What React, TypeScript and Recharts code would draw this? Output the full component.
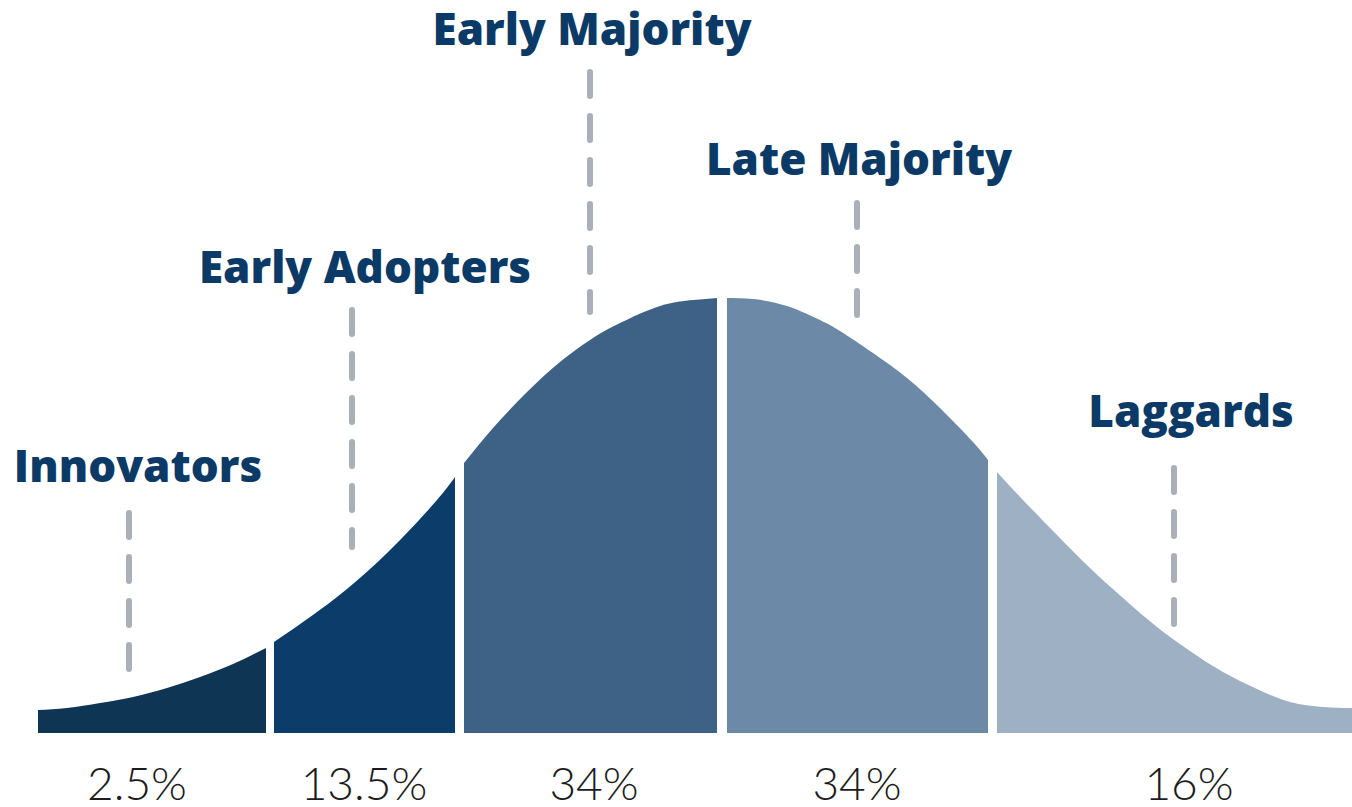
import { ComposedChart, Area, XAxis, YAxis, ReferenceLine, ReferenceDot } from 'recharts';

// adopter groups, left to right
const segmentNames = ['Innovators', 'Early Adopters', 'Early Majority', 'Late Majority', 'Laggards'];
const adoptionShares = ['2.5%', '13.5%', '34%', '34%', '16%'];
const segmentColors = ['#0f3555', '#0b3c6a', '#3e6286', '#6c8aa7', '#9db0c4'];

// curve height, x = distance from the left end of the curve
const innovatorsCurve = [
  { x: 0, h: 23 }, { x: 29, h: 25 }, { x: 62, h: 30 }, { x: 95, h: 36 },
  { x: 129, h: 45 }, { x: 162, h: 56 }, { x: 195, h: 69 }, { x: 228, h: 85 },
];
const earlyAdoptersCurve = [
  { x: 236, h: 91 }, { x: 265, h: 111 }, { x: 299, h: 136 }, { x: 332, h: 164 },
  { x: 365, h: 196 }, { x: 399, h: 233 }, { x: 417, h: 256 },
];
const earlyMajorityCurve = [
  { x: 426, h: 270 }, { x: 455, h: 305 }, { x: 489, h: 341 }, { x: 522, h: 371 },
  { x: 555, h: 395 }, { x: 582, h: 410 }, { x: 622, h: 427 }, { x: 655, h: 433 }, { x: 679, h: 435 },
];
const lateMajorityCurve = [
  { x: 689, h: 435 }, { x: 715, h: 434 }, { x: 749, h: 427 }, { x: 782, h: 413 },
  { x: 802, h: 402 }, { x: 835, h: 380 }, { x: 869, h: 355 }, { x: 902, h: 325 },
  { x: 935, h: 291 }, { x: 950, h: 273 },
];
const laggardsCurve = [
  { x: 959, h: 261 }, { x: 985, h: 233 }, { x: 1019, h: 198 }, { x: 1052, h: 165 },
  { x: 1085, h: 135 }, { x: 1119, h: 106 }, { x: 1152, h: 82 }, { x: 1185, h: 61 },
  { x: 1219, h: 44 }, { x: 1252, h: 31 }, { x: 1285, h: 26 }, { x: 1314, h: 25 },
];
const curves = [innovatorsCurve, earlyAdoptersCurve, earlyMajorityCurve, lateMajorityCurve, laggardsCurve];

// where titles, dashed markers and share ticks sit (data units)
const titleX = [100, 327, 554, 821, 1153];
const titleY = [251, 450, 688, 558, 306];
const markerX = [91, 314, 552, 819, 1136];
const markerTop = [220, 423, 661, 530, 265];
const markerBottom = [61, 186, 421, 413, 109];
const shareX = [99, 326, 556, 819, 1151];

const titleColor = '#0c3a66';

const makeTitle = (text: string) => (props: any) => (
  <text
    x={props.viewBox.x}
    y={props.viewBox.y}
    textAnchor="middle"
    fill={titleColor}
    fontFamily="'Open Sans', sans-serif"
    fontWeight={800}
    fontSize={44}
  >
    {text}
  </text>
);

export default function App() {
  return (
    <div style={{ position: 'absolute', left: 0, top: 0, background: '#fff' }}>
      <ComposedChart width={1352} height={807} margin={{ top: 298, right: 0, bottom: 0, left: 38 }}>
        <XAxis
          type="number"
          dataKey="x"
          domain={[0, 1314]}
          ticks={shareX}
          interval={0}
          height={74}
          axisLine={false}
          tickLine={false}
          tickSize={0}
          tickMargin={34}
          tickFormatter={(v: number) => adoptionShares[shareX.indexOf(v)]}
          tick={{ fill: '#1c1c1c', fontFamily: 'Lato, sans-serif', fontWeight: 300, fontSize: 46 }}
        />
        <YAxis hide type="number" domain={[0, 435]} />

        {curves.map((curve, i) => (
          <Area
            key={segmentNames[i]}
            data={curve}
            dataKey="h"
            type="natural"
            stroke="none"
            fill={segmentColors[i]}
            fillOpacity={1}
            isAnimationActive={false}
          />
        ))}

        {segmentNames.map((name, i) => (
          <ReferenceLine
            key={'m' + name}
            segment={[{ x: markerX[i], y: markerTop[i] }, { x: markerX[i], y: markerBottom[i] }]}
            stroke="#aab0b8"
            strokeWidth={6}
            strokeDasharray="24 20"
            strokeLinecap="round"
            ifOverflow="visible"
          />
        ))}

        {segmentNames.map((name, i) => (
          <ReferenceDot
            key={'t' + name}
            x={titleX[i]}
            y={titleY[i]}
            r={0}
            fill="none"
            stroke="none"
            ifOverflow="visible"
            label={makeTitle(name)}
          />
        ))}
      </ComposedChart>
    </div>
  );
}
